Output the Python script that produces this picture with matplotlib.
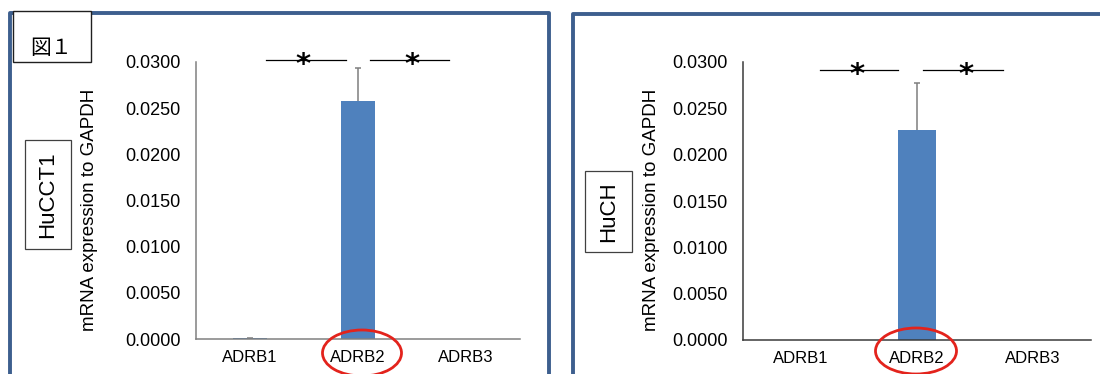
import matplotlib
matplotlib.use('Agg')
import matplotlib.pyplot as plt
from matplotlib.patches import Ellipse, Rectangle
from matplotlib.lines import Line2D
from matplotlib.ticker import FormatStrFormatter, MultipleLocator

# mRNA expression relative to GAPDH (mean, upper error)
genes = ['ADRB1', 'ADRB2', 'ADRB3']
hucct1_mean = [0.00008, 0.0258, 0.0]
hucct1_err = [0.00003, 0.0036, 0.0]
huch_mean = [0.0, 0.0227, 0.0]
huch_err = [0.0, 0.0050, 0.0]

W, H = 1100, 374
fig = plt.figure(figsize=(11, 3.74), dpi=100)
plt.rcParams['font.family'] = ['Liberation Sans', 'DejaVu Sans']

BAR = '#4F81BD'
FRAME = '#3D5F8E'


def fx(x):
    return x / W


def fy(y):
    return 1 - y / H


def frame_line(xs, ys):
    fig.add_artist(Line2D([fx(v) for v in xs], [fy(v) for v in ys],
                          transform=fig.transFigure, color=FRAME, lw=2.8,
                          solid_capstyle='projecting', zorder=1))


# blue panel frames
frame_line([10, 10, 549, 549], [380, 13, 13, 380])
frame_line([573, 573, 1105], [380, 14, 14])


def panel(x0, x1, y0, y1, means, errs, axis_color, sig_y, spans, stars,
          name, box, ylab_x, ell):
    ax = fig.add_axes([fx(x0), fy(y1), fx(x1 - x0), (y1 - y0) / H])
    pos = range(len(genes))
    ax.bar(pos, means, width=0.32, color=BAR, zorder=2)
    # upper-only error bars with a cap
    for i in pos:
        if errs[i] > 0:
            top = means[i] + errs[i]
            ax.vlines(i, means[i], top, color='#7F7F7F', lw=1.1, zorder=3)
            ax.hlines(top, i - 0.025, i + 0.025, color='#7F7F7F', lw=1.1,
                      zorder=3)
    ax.set_xlim(-0.5, len(genes) - 0.5)
    ax.set_ylim(0, 0.03)
    ax.yaxis.set_major_locator(MultipleLocator(0.005))
    ax.yaxis.set_major_formatter(FormatStrFormatter('%.4f'))
    ax.set_xticks(list(pos))
    ax.set_xticklabels(genes, fontsize=12)
    ax.tick_params(axis='y', length=0, pad=11, labelsize=13)
    ax.tick_params(axis='x', length=0, pad=8)
    for s in ['top', 'right']:
        ax.spines[s].set_visible(False)
    for s in ['left', 'bottom']:
        ax.spines[s].set_color(axis_color)
        ax.spines[s].set_linewidth(1.1)

    # significance brackets
    for a, b in spans:
        ax.plot([a, b], [sig_y, sig_y], color='black', lw=0.9, clip_on=False)
    for sx in stars:
        ax.annotate('*', xy=(sx, sig_y), xytext=(0, -0.44 * 21),
                    textcoords='offset points', ha='center', va='baseline',
                    fontsize=21, fontweight='bold', family='DejaVu Sans',
                    annotation_clip=False)

    fig.text(fx(ylab_x), fy(210), 'mRNA expression to GAPDH', rotation=90,
             ha='center', va='center', fontsize=13.5)

    bx0, by0, bx1, by1 = box
    fig.add_artist(Rectangle((fx(bx0), fy(by1)), fx(bx1 - bx0), (by1 - by0) / H,
                             transform=fig.transFigure, facecolor='white',
                             edgecolor='#404040', lw=0.9))
    fig.text(fx((bx0 + bx1) / 2), fy((by0 + by1) / 2), name, rotation=90,
             ha='center', va='center', fontsize=16)

    cx, cy, ew, eh = ell
    fig.add_artist(Ellipse((fx(cx), fy(cy)), fx(ew), eh / H,
                           transform=fig.transFigure, fill=False,
                           edgecolor='#E3231C', lw=2.0, zorder=5))
    return ax


panel(196, 520, 62, 339, hucct1_mean, hucct1_err, '#808080', 0.0302,
      [(0.15, 0.89), (1.11, 1.84)], [0.49, 1.5],
      'HuCCT1', (25, 140, 71, 249), 89, (362, 353, 79, 46))

panel(743, 1091, 62, 340, huch_mean, huch_err, '#3A3A3A', 0.0291,
      [(0.16, 0.84), (1.05, 1.74)], [0.48, 1.42],
      'HuCH', (585, 171, 632, 252), 651, (916, 351, 81, 46))

# figure number box
fig.add_artist(Rectangle((fx(13), fy(62)), fx(78), 51 / H,
                         transform=fig.transFigure, facecolor='white',
                         edgecolor='#202020', lw=1.0, zorder=4))
fig.text(fx(51), fy(48), '図１', ha='center', va='center', fontsize=15,
         family=['Noto Sans CJK JP', 'DejaVu Sans'], zorder=6)

fig.savefig('out.png', dpi=100, facecolor='white')
